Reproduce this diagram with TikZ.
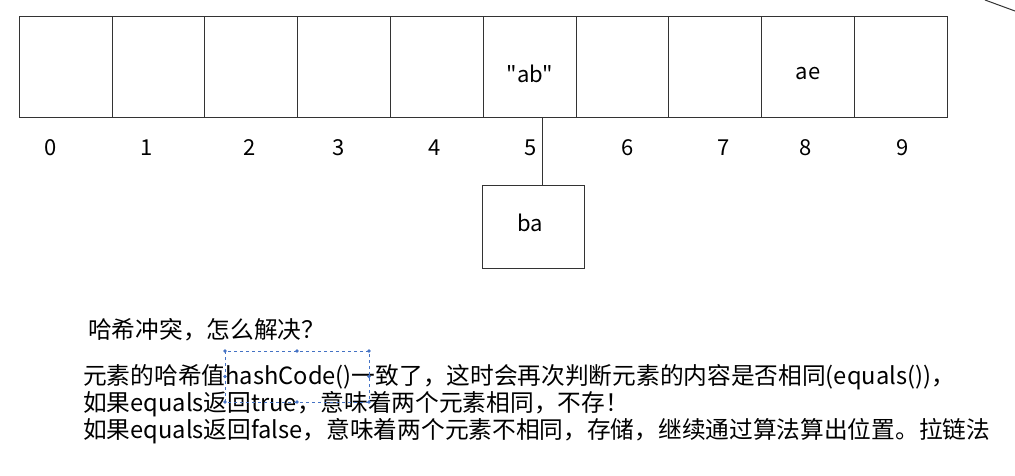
\documentclass[tikz,border=0pt]{standalone}
\usepackage{fontspec}
\setmainfont[Ligatures=TeXOff]{Noto Sans CJK SC}
\usetikzlibrary{positioning}
\definecolor{hashgray}{RGB}{51,51,51}
\definecolor{selblue}{RGB}{68,114,196}

\begin{document}
\begin{tikzpicture}[x=1pt,y=-1pt,
  cell/.style={draw=hashgray,line width=1pt,minimum width=92.8pt,minimum height=101.3pt,inner sep=0pt},
  idx/.style={inner sep=0pt,font=\fontsize{22}{26}\selectfont},
  txt/.style={anchor=base west,inner sep=0pt,font=\fontsize{23.7}{27}\selectfont}]
  \useasboundingbox (0,0) rectangle (1015,475);
  % hash table
  \foreach \i in {0,...,9}
    \node[cell] (c\i) at (65.7+92.8*\i,66.7) {};
  \foreach \x [count=\n from 0] in {50.7,146.7,250,339,434.3,530.7,627.3,723.3,805.7,902.3}
    \node[idx] (i\n) at (\x,148) {\n};
  \node[idx] (ab) at (530,74) {"ab"};
  \node[idx] (ae) at (808,74) {ae};
  % chained entry
  \node[cell,minimum width=102pt,minimum height=83pt] (ba) at (533,226.5) {};
  \node[idx] (batxt) at (530,223) {ba};
  \draw[hashgray,line width=1pt] ([xshift=12.5pt]c5.south) -- ([xshift=12.5pt]c5.south |- ba.north);
  % stray connector at the corner
  \coordinate (offa) at (985,0);
  \coordinate (offb) at (1015,11);
  \draw[hashgray,line width=1pt] (offa) -- (offb);
  % notes
  \node[txt] (q) at (88,338) {哈希冲突，怎么解决？};
  \node[txt] (l1) at (83,384) {元素的哈希值hashCode()一致了，这时会再次判断元素的内容是否相同(equals())，};
  \node[txt] (l2) at (83,411) {如果equals返回true，意味着两个元素相同，不存！};
  \node[txt] (l3) at (83,438) {如果equals返回false，意味着两个元素不相同，存储，继续通过算法算出位置。拉链法};
  % selection frame
  \draw[selblue,dashed,line width=0.8pt] (225,351) rectangle (369,402);
  \foreach \p in {(225,351),(297,351),(369,351),(225,376.5),(369,376.5),(225,402),(297,402),(369,402)}
    \fill[selblue] \p circle (1.8);
\end{tikzpicture}
\end{document}
